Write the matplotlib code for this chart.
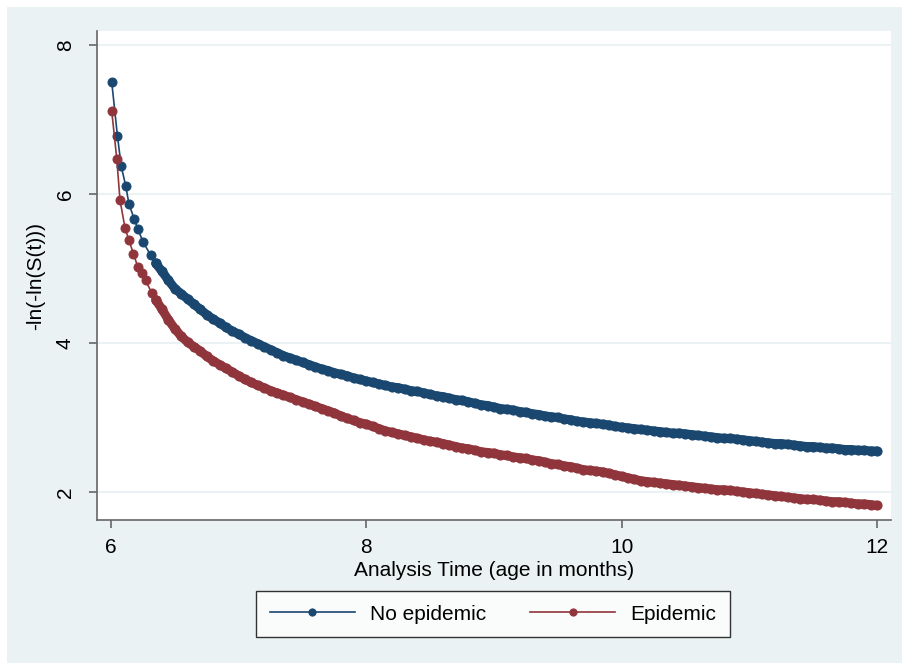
import numpy as np
import matplotlib.pyplot as plt
from matplotlib.patches import Rectangle

plt.rcParams["font.family"] = ["Liberation Sans", "DejaVu Sans"]
plt.rcParams["font.size"] = 15

#=====================#
# time (months) after the sparse start, shared by both groups
x_tail = [6.35, 6.40, 6.45, 6.50, 6.55, 6.60, 6.65, 6.70, 6.75, 6.80, 6.85, 6.90, 6.95,
          7.00, 7.05, 7.10, 7.15, 7.20, 7.25, 7.30, 7.35, 7.40, 7.45, 7.50, 7.55, 7.60, 7.65, 7.70, 7.75, 7.80, 7.85, 7.90, 7.95,
          8.00, 8.05, 8.10, 8.15, 8.20, 8.25, 8.30, 8.35, 8.40, 8.45, 8.50, 8.55, 8.60, 8.65, 8.70, 8.75, 8.80, 8.85, 8.90, 8.95,
          9.00, 9.05, 9.10, 9.15, 9.20, 9.25, 9.30, 9.35, 9.40, 9.45, 9.50, 9.55, 9.60, 9.65, 9.70, 9.75, 9.80, 9.85, 9.90, 9.95,
          10.00, 10.05, 10.10, 10.15, 10.20, 10.25, 10.30, 10.35, 10.40, 10.45, 10.50, 10.55, 10.60, 10.65, 10.70, 10.75, 10.80, 10.85, 10.90, 10.95,
          11.00, 11.05, 11.10, 11.15, 11.20, 11.25, 11.30, 11.35, 11.40, 11.45, 11.50, 11.55, 11.60, 11.65, 11.70, 11.75, 11.80, 11.85, 11.90, 11.95,
          12.00]

# No epidemic
x_noepi_start = [6.005, 6.05, 6.08, 6.115, 6.14, 6.18, 6.21, 6.25, 6.31]
y_noepi_start = [7.51, 6.78, 6.37, 6.11, 5.87, 5.67, 5.53, 5.36, 5.18]
y_noepi_tail = [5.07, 4.96, 4.84, 4.73, 4.66, 4.59, 4.52, 4.45, 4.38, 4.32, 4.27, 4.21, 4.16,
                4.12, 4.07, 4.03, 3.99, 3.95, 3.91, 3.87, 3.83, 3.80, 3.77, 3.74, 3.71, 3.68, 3.65, 3.63, 3.60, 3.58, 3.56, 3.53, 3.51,
                3.49, 3.47, 3.45, 3.43, 3.41, 3.40, 3.38, 3.36, 3.35, 3.33, 3.31, 3.29, 3.28, 3.26, 3.24, 3.23, 3.21, 3.19, 3.17, 3.16,
                3.14, 3.12, 3.11, 3.10, 3.08, 3.07, 3.05, 3.04, 3.02, 3.01, 3.00, 2.98, 2.97, 2.95, 2.94, 2.93, 2.92, 2.91, 2.90, 2.88,
                2.87, 2.86, 2.85, 2.84, 2.83, 2.82, 2.81, 2.80, 2.79, 2.79, 2.78, 2.77, 2.76, 2.75, 2.74, 2.73, 2.72, 2.72, 2.71, 2.70,
                2.69, 2.68, 2.67, 2.66, 2.65, 2.65, 2.64, 2.63, 2.62, 2.61, 2.61, 2.60, 2.59, 2.59, 2.58, 2.57, 2.57, 2.56, 2.56, 2.55,
                2.55]

# Epidemic
x_epi_start = [6.005, 6.045, 6.07, 6.11, 6.14, 6.175, 6.21, 6.24, 6.27, 6.32]
y_epi_start = [7.12, 6.47, 5.92, 5.54, 5.38, 5.20, 5.02, 4.94, 4.84, 4.67]
y_epi_tail = [4.58, 4.45, 4.31, 4.19, 4.09, 4.01, 3.95, 3.89, 3.82, 3.76, 3.71, 3.66, 3.61,
              3.56, 3.51, 3.47, 3.43, 3.40, 3.36, 3.33, 3.30, 3.27, 3.24, 3.21, 3.18, 3.15, 3.12, 3.09, 3.06, 3.02, 2.99, 2.96, 2.93,
              2.91, 2.88, 2.85, 2.82, 2.80, 2.78, 2.76, 2.74, 2.72, 2.70, 2.68, 2.67, 2.65, 2.63, 2.61, 2.59, 2.58, 2.56, 2.54, 2.53,
              2.52, 2.50, 2.49, 2.47, 2.46, 2.45, 2.43, 2.42, 2.40, 2.38, 2.37, 2.35, 2.34, 2.32, 2.30, 2.29, 2.28, 2.27, 2.25, 2.23,
              2.21, 2.19, 2.17, 2.15, 2.14, 2.13, 2.12, 2.11, 2.10, 2.09, 2.08, 2.07, 2.06, 2.05, 2.04, 2.03, 2.03, 2.02, 2.01, 2.00,
              1.99, 1.98, 1.97, 1.96, 1.95, 1.94, 1.93, 1.92, 1.91, 1.90, 1.90, 1.89, 1.88, 1.87, 1.87, 1.86, 1.85, 1.84, 1.84, 1.83,
              1.82]

x_ticks = [6, 8, 10, 12]
y_ticks = [2, 4, 6, 8]
#=====================#

navy = "#1a476f"
maroon = "#90353b"
bg = "#eaf2f3"

fig = plt.figure(figsize=(9.02, 6.63), dpi=100)
fig.patch.set_facecolor("white")
fig.patches.append(Rectangle((7/902, 0), 1, (663-7)/663, transform=fig.transFigure,
                             facecolor=bg, edgecolor="none", zorder=-10))

ax = fig.add_axes([97/902, 143/663, 794/902, 489/663])
ax.set_facecolor("white")

series = [(x_noepi_start, y_noepi_start, y_noepi_tail, navy, "No epidemic"),
          (x_epi_start, y_epi_start, y_epi_tail, maroon, "Epidemic")]
for xs, ys, yt, c, lab in series:
    # sparse early events: thin connecting line
    ax.plot(xs + x_tail[:1], ys + yt[:1], color=c, lw=1.2,
            marker="o", markersize=6.5, markeredgewidth=0.7, label=lab)
    # dense part: overlapping markers merge into a band
    ax.plot(x_tail, yt, color=c, lw=6.5, solid_capstyle="round",
            marker="o", markersize=6.5, markeredgewidth=0.8)

ax.set_xlim(5.89, 12.11)
ax.set_ylim(1.624, 8.188)
ax.set_xticks(x_ticks)
ax.set_yticks(y_ticks)
ax.set_yticklabels([str(v) for v in y_ticks], rotation=90, va="center")

ax.grid(axis="y", color=bg, lw=1.5)
ax.set_axisbelow(True)
for s in ["top", "right"]:
    ax.spines[s].set_visible(False)
for s in ["left", "bottom"]:
    ax.spines[s].set_color("#666666")
    ax.spines[s].set_linewidth(1.2)
ax.tick_params(axis="both", color="#666666", length=6, width=1.2, labelsize=15)
ax.tick_params(axis="x", pad=7)
ax.tick_params(axis="y", pad=10)

ax.set_xlabel("Analysis Time (age in months)", fontsize=15, labelpad=3)
ax.set_ylabel("-ln(-ln(S(t)))", fontsize=15, labelpad=8)

leg = fig.legend(loc="center", bbox_to_anchor=(493/902, 49/663), ncol=2,
                 handlelength=4.1, fontsize=15, frameon=True, fancybox=False,
                 columnspacing=2.1, handletextpad=0.72, borderpad=0.65,
                 borderaxespad=0.0, markerscale=0.8)
leg.get_frame().set_edgecolor("black")
leg.get_frame().set_linewidth(1.0)
leg.get_frame().set_facecolor("white")

fig.savefig("out.png", dpi=100, facecolor=fig.get_facecolor())
